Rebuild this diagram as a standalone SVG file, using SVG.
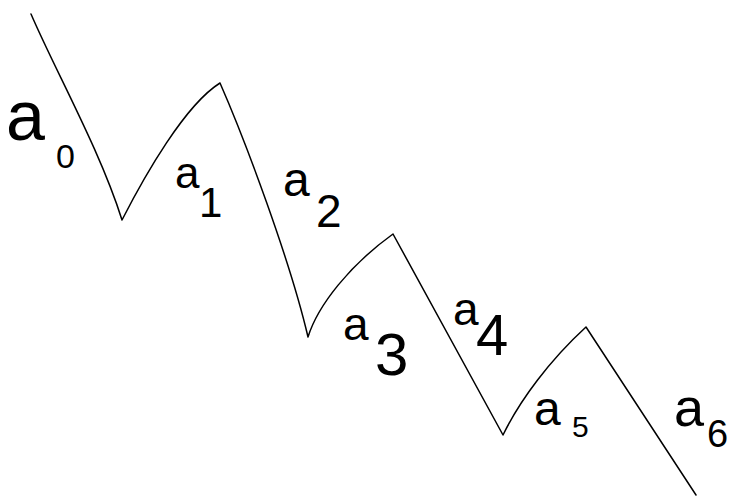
<svg xmlns="http://www.w3.org/2000/svg" width="731" height="498" viewBox="0 0 731 498">
<style>
.ln{fill:none;stroke:#000;stroke-width:1.5;stroke-linejoin:round;stroke-linecap:round}
.lb{font-family:"Liberation Sans",Arial,sans-serif;fill:#000}
</style>
<rect width="731" height="498" fill="#fff"/>
<path class="ln" d="M31,14 C55,70 100,150 122,220 C145,175 185,105 220,83 C245,140 290,260 308,337 C318,305 350,265 393,234 L503,435 C520,400 550,360 586,327 L696,495"/>
<g class="lb">
<text x="6" y="140" font-size="70">a</text><text x="56" y="168" font-size="34">0</text>
<text x="175" y="188" font-size="44">a</text><text x="199" y="217" font-size="42">1</text>
<text x="283" y="196" font-size="48">a</text><text x="316" y="227" font-size="46">2</text>
<text x="343" y="340" font-size="46">a</text><text x="375" y="375" font-size="60">3</text>
<text x="453" y="325" font-size="46">a</text><text x="476" y="355" font-size="58">4</text>
<text x="534" y="425" font-size="48">a</text><text x="572" y="437" font-size="30">5</text>
<text x="674" y="426" font-size="54">a</text><text x="707" y="447" font-size="38">6</text>
</g>
</svg>
